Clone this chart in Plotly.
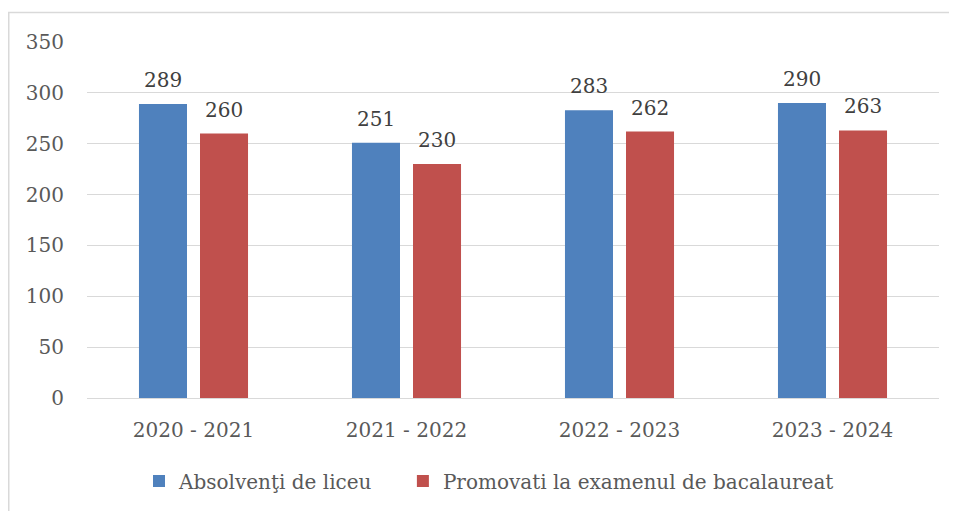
import plotly.graph_objects as go

categories = ["2020 - 2021", "2021 - 2022", "2022 - 2023", "2023 - 2024"]
absolventi = [289, 251, 283, 290]
promovati = [260, 230, 262, 263]
series_names = ["Absolvenţi de liceu", "Promovati la examenul de bacalaureat"]
y_ticks = [0, 50, 100, 150, 200, 250, 300, 350]

FONT = "DejaVu Serif"
BLUE = "#4F81BD"
RED = "#C0504D"

W, H = 949, 503
L, R, T, B = 79, 18, 34, 113
PW = W - L - R
PH = H - T - B

fig = go.Figure()
fig.add_trace(go.Bar(x=categories, y=absolventi, name=series_names[0] + "\u00a0" * 4,
                     marker=dict(color=BLUE, line=dict(width=0))))
fig.add_trace(go.Bar(x=categories, y=promovati, name=series_names[1],
                     marker=dict(color=RED, line=dict(width=0))))

annotations = []
for vals, shift in [(absolventi, -30.5), (promovati, 30.5)]:
    for c, v in zip(categories, vals):
        annotations.append(dict(x=c, y=v, xref="x", yref="y", text=str(v),
                                showarrow=False, xshift=shift, yshift=10,
                                yanchor="bottom",
                                font=dict(family=FONT, size=20, color="#404040")))

fig.update_layout(
    width=W, height=H,
    margin=dict(l=L, r=R, t=T, b=B),
    paper_bgcolor="white", plot_bgcolor="white",
    barmode="group", bargap=0.427, bargroupgap=0.213,
    font=dict(family=FONT, size=20, color="#595959"),
    xaxis=dict(showgrid=False, showline=True, linecolor="#D9D9D9", linewidth=1,
               ticks="", ticklabelstandoff=14, automargin=False,
               tickfont=dict(family=FONT, size=20, color="#595959")),
    yaxis=dict(range=[0, 350], tickvals=y_ticks, showgrid=True, gridcolor="#D9D9D9",
               gridwidth=1, zeroline=False, showline=False, ticks="",
               ticklabelstandoff=22, automargin=False,
               tickfont=dict(family=FONT, size=20, color="#595959")),
    showlegend=True,
    legend=dict(orientation="h", xref="container", yref="container",
                x=481 / W, xanchor="center",
                y=1 - 473 / H, yanchor="middle",
                font=dict(family=FONT, size=20, color="#595959"),
                bgcolor="rgba(0,0,0,0)"),
    annotations=annotations,
    shapes=[dict(type="rect", xref="paper", yref="paper",
                 x0=(0.75 - L) / PW, x1=1.05, y0=-0.4, y1=(T + PH - 4.5) / PH,
                 line=dict(color="#D9D9D9", width=1.5), fillcolor="rgba(0,0,0,0)",
                 layer="below")],
)

fig.write_html("out.html")
